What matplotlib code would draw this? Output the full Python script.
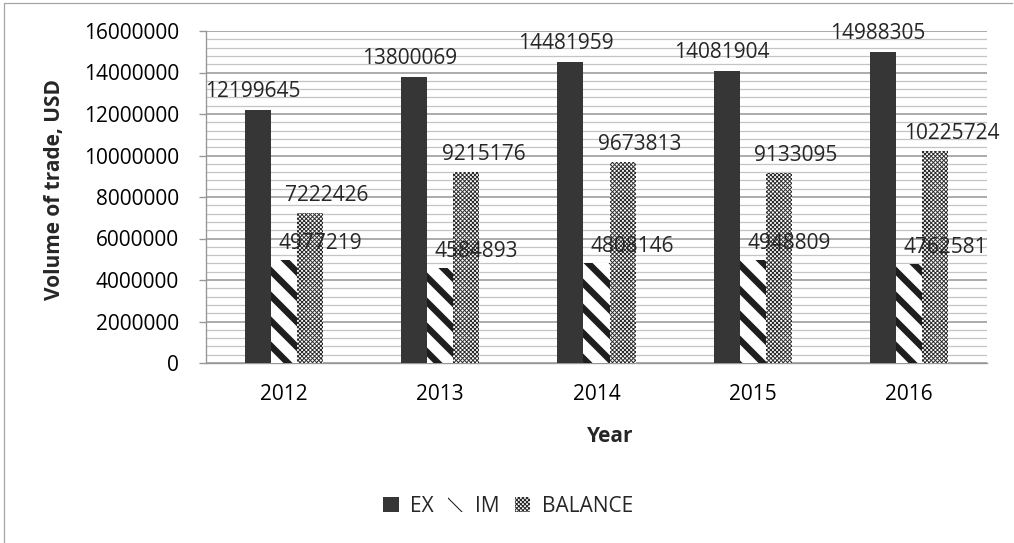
import numpy as np
import matplotlib
matplotlib.use("Agg")
import matplotlib.pyplot as plt
from matplotlib.ticker import MultipleLocator

years = ["2012", "2013", "2014", "2015", "2016"]
ex = [12199645, 13800069, 14481959, 14081904, 14988305]
im = [4977219, 4584893, 4808146, 4948809, 4762581]
balance = [7222426, 9215176, 9673813, 9133095, 10225724]

plt.rcParams['font.family'] = ['Open Sans', 'DejaVu Sans']
plt.rcParams['font.size'] = 20
plt.rcParams['text.color'] = '#262626'

DPI = 75
fig = plt.figure(figsize=(1014 / DPI, 543 / DPI), dpi=DPI)
ax = fig.add_axes([206 / 1014, 1 - 363 / 543, 781 / 1014, 332 / 543])

x = np.arange(len(years))
w = 1 / 6
b_ex = ax.bar(x - w, ex, w, color='#363636', linewidth=0, zorder=3, label='EX')
b_im = ax.bar(x, im, w, facecolor='white', edgecolor='#1e1e1e', linewidth=0,
              hatch='\\', hatch_linewidth=6.2, zorder=3, label='IM')
b_bal = ax.bar(x + w, balance, w, facecolor='white', edgecolor='#2a2a2a', linewidth=0,
               hatch='xxxxxx', hatch_linewidth=0.9, zorder=3, label='BALANCE')

# data labels (Excel labels were nudged sideways per series)
for bars, vals, dx, dy in [(b_ex, ex, -5, 8), (b_im, im, 36, 6), (b_bal, balance, 17, 7)]:
    for r, v in zip(bars, vals):
        ax.annotate(str(v), (r.get_x() + r.get_width() / 2, v), xytext=(dx, dy),
                    textcoords='offset pixels', ha='center', va='bottom', zorder=4)

ax.set_xlim(-0.5, len(years) - 0.5)
ax.set_ylim(0, 16000000)
ax.yaxis.set_major_locator(MultipleLocator(2000000))
ax.yaxis.set_minor_locator(MultipleLocator(400000))
ax.set_yticklabels([str(int(t)) for t in ax.get_yticks()])
ax.set_xticks(x)
ax.set_xticklabels(years)

ax.grid(axis='y', which='major', color='#979797', linewidth=1.5, zorder=0)
ax.grid(axis='y', which='minor', color='#c4c4c4', linewidth=1.2, zorder=0)
ax.set_axisbelow(True)
for s in ['top', 'right']:
    ax.spines[s].set_visible(False)
for s in ['left', 'bottom']:
    ax.spines[s].set_color('#979797')
    ax.spines[s].set_linewidth(1.3)
ax.tick_params(axis='y', which='major', length=7, color='#979797', width=1.3, pad=19)
ax.tick_params(axis='y', which='minor', length=0)
ax.tick_params(axis='x', length=0, pad=20)

fig.text(55 / 1014, 1 - 190 / 543, 'Volume of trade, USD', rotation=90,
         ha='center', va='center', fontweight='bold')
fig.text(610 / 1014, 1 - 437 / 543, 'Year', ha='center', va='center', fontweight='bold')

fig.legend(handles=[b_ex, b_im, b_bal], loc='center', bbox_to_anchor=(508 / 1014, 1 - 506 / 543),
           ncol=3, frameon=False, handlelength=0.75, handleheight=0.75,
           handletextpad=0.55, columnspacing=0.7)

# outer frame of the chart area (only left and top edges are visible)
fig.add_artist(plt.Line2D([4 / 1014, 4 / 1014, 1012 / 1014], [0, 1 - 3 / 543, 1 - 3 / 543],
                          transform=fig.transFigure, color='#a6a6a6', linewidth=1.2))

fig.savefig('out.png', dpi=DPI)
